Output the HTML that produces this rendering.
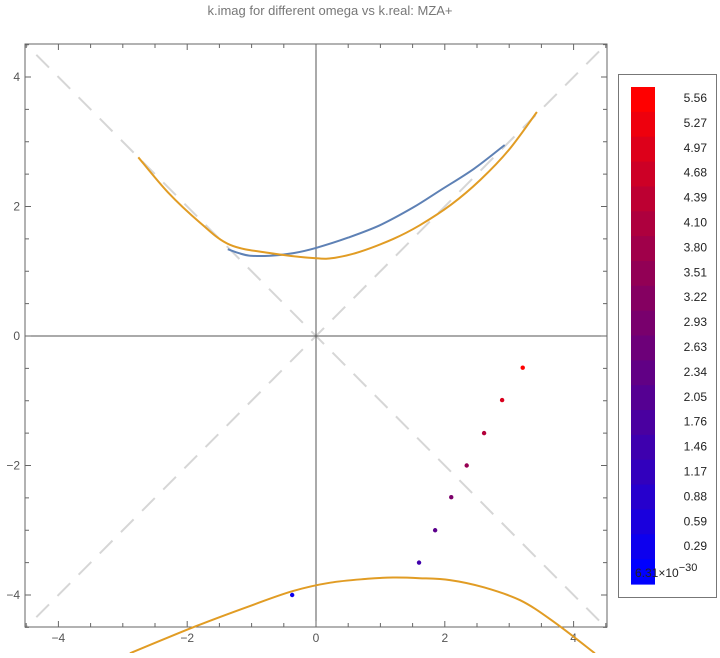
<!DOCTYPE html>
<html><head><meta charset="utf-8"><style>
body{margin:0;background:#fff;}
svg text{font-family:"Liberation Sans",sans-serif;}
</style></head><body>
<svg id="chart" width="720" height="653" xmlns="http://www.w3.org/2000/svg">
<text x="330" y="15" text-anchor="middle" font-size="13" fill="#777">k.imag for different omega vs k.real: MZA+</text>
<defs><clipPath id="plotclip"><rect x="25" y="44" width="582" height="583"/></clipPath>
<clipPath id="curveclip"><rect x="25" y="44" width="582" height="609"/></clipPath></defs>
<g id="plot" clip-path="url(#plotclip)"></g>
<g id="axes"></g>
<g id="curves" clip-path="url(#curveclip)"></g>
<g id="cbar"></g>
</svg>
<script>
const xTicks=[-4,-2,0,2,4];
const yTicks=[-4,-2,0,2,4];
const upperOrangeX=[-2.76,-2.3,-1.8,-1.34,-0.71,0,0.3,0.68,1.2,1.61,2.1,2.55,3.0,3.43];
const upperOrangeY=[2.76,2.22,1.75,1.41,1.28,1.2,1.21,1.30,1.50,1.71,2.03,2.41,2.88,3.46];
const blueX=[-1.37,-1.2,-1.02,-0.71,-0.35,0,0.5,0.99,1.5,1.93,2.45,2.93];
const blueY=[1.34,1.28,1.24,1.24,1.28,1.36,1.52,1.71,1.98,2.25,2.58,2.95];
const lowerOrangeX=[-2.89,-1.86,-1.0,-0.36,0.22,0.8,1.2,1.61,2.08,2.6,3.17,3.7,4.33];
const lowerOrangeY=[-4.9,-4.48,-4.16,-3.94,-3.81,-3.75,-3.73,-3.74,-3.77,-3.88,-4.08,-4.42,-4.9];
const ptX=[-0.37,1.6,1.85,2.1,2.34,2.61,2.89,3.21];
const ptY=[-4.0,-3.5,-3.0,-2.49,-2.0,-1.5,-0.99,-0.49];
const ptV=[0.3,1.5,2.2,3.0,3.6,4.2,4.9,5.56];
const cbLabels=["5.56","5.27","4.97","4.68","4.39","4.10","3.80","3.51","3.22","2.93","2.63","2.34","2.05","1.76","1.46","1.17","0.88","0.59","0.29"];
const vMax=5.56;
const NS="http://www.w3.org/2000/svg";
const X=v=>316+v*64.4, Y=v=>336-v*64.75;
function mk(tag,attrs,parent){const e=document.createElementNS(NS,tag);for(const k in attrs)e.setAttribute(k,attrs[k]);parent.appendChild(e);return e;}
function col(v){const t=Math.max(0,Math.min(1,v/vMax));const d=1-0.1*Math.sin(Math.PI*t);return `rgb(${Math.round(255*t*d)},0,${Math.round(255*(1-t)*d)})`;}
const plot=document.getElementById('plot'),axes=document.getElementById('axes'),cb=document.getElementById('cbar'),curves=document.getElementById('curves');
let e=mk('line',{x1:X(-5),y1:Y(-5),x2:X(5),y2:Y(5),stroke:'#d6d6d6','stroke-width':2,'stroke-dasharray':'18,12'},plot);


e=mk('line',{x1:X(-5),y1:Y(5),x2:X(5),y2:Y(-5),stroke:'#d6d6d6','stroke-width':2,'stroke-dasharray':'18,12'},plot);


e=mk('line',{x1:25,y1:Y(0),x2:607,y2:Y(0),stroke:'#555','stroke-width':1},plot);


e=mk('line',{x1:X(0),y1:44,x2:X(0),y2:627,stroke:'#555','stroke-width':1},plot);


function path(xs,ys,c,name){
const P=xs.map((x,i)=>[X(x),Y(ys[i])]);
let d='M'+P[0][0].toFixed(1)+','+P[0][1].toFixed(1);
for(let i=0;i<P.length-1;i++){const p0=P[Math.max(0,i-1)],p1=P[i],p2=P[i+1],p3=P[Math.min(P.length-1,i+2)];
const c1=[p1[0]+(p2[0]-p0[0])/6,p1[1]+(p2[1]-p0[1])/6],c2=[p2[0]-(p3[0]-p1[0])/6,p2[1]-(p3[1]-p1[1])/6];
d+='C'+c1[0].toFixed(1)+','+c1[1].toFixed(1)+' '+c2[0].toFixed(1)+','+c2[1].toFixed(1)+' '+p2[0].toFixed(1)+','+p2[1].toFixed(1);}
const p=mk('path',{d:d,fill:'none',stroke:c,'stroke-width':2,'stroke-linejoin':'round'},curves);

}
path(blueX,blueY,'#5e81b5','blue-curve');
path(upperOrangeX,upperOrangeY,'#e19c24','upper-orange-curve');
path(lowerOrangeX,lowerOrangeY,'#e19c24','lower-orange-curve');
ptX.forEach((x,i)=>{const c=mk('circle',{cx:X(x),cy:Y(ptY[i]),r:2.2,fill:col(ptV[i])},curves);

});
e=mk('rect',{x:25,y:44,width:582,height:583,fill:'none',stroke:'#666','stroke-width':1},axes);


for(let v=-4.5;v<=4.5;v+=0.5){const maj=Math.abs(v%2)<1e-9;const L=maj?6:4;
const xp=X(v),yp=Y(v);
mk('line',{x1:xp,y1:627,x2:xp,y2:627-L,stroke:'#666'},axes);
mk('line',{x1:xp,y1:44,x2:xp,y2:44+L,stroke:'#666'},axes);
mk('line',{x1:25,y1:yp,x2:25+L,y2:yp,stroke:'#666'},axes);
mk('line',{x1:607,y1:yp,x2:607-L,y2:yp,stroke:'#666'},axes);}
xTicks.forEach(v=>{const t=mk('text',{x:X(v),y:642,'text-anchor':'middle','font-size':12,fill:'#555'},axes);t.textContent=v<0?'\u2212'+(-v):v;

});
yTicks.forEach(v=>{const t=mk('text',{x:20,y:Y(v)+4,'text-anchor':'end','font-size':12,fill:'#555'},axes);t.textContent=v<0?'\u2212'+(-v):v;

});
e=mk('rect',{x:618.5,y:74.5,width:98,height:523,fill:'#fff',stroke:'#777'},cb);


const nb=20,cbTop=87,cbBot=584,bh=(cbBot-cbTop)/nb;
for(let i=0;i<nb;i++){const v=vMax*(1-i/(nb-1));
const r=mk('rect',{x:631,y:cbTop+i*bh,width:24,height:bh+0.6,fill:col(v)},cb);

}
cbLabels.forEach((s,i)=>{const t=mk('text',{x:707,y:102+i*24.9,'text-anchor':'end','font-size':12,fill:'#222'},cb);t.textContent=s;

});
const t0=mk('text',{x:635,y:577,'font-size':12,fill:'#222'},cb);


t0.textContent='6.31\u00d710';
const sup=mk('tspan',{dy:-6,'font-size':11},t0);
sup.textContent='\u221230';
</script>
</body></html>
